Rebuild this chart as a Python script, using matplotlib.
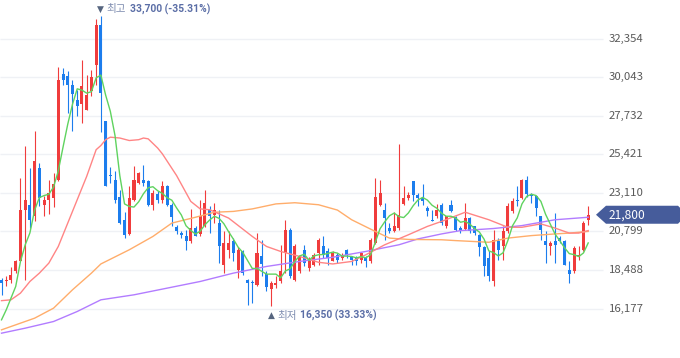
import matplotlib
matplotlib.use("Agg")
from matplotlib import pyplot as plt
from matplotlib.patches import Polygon
from matplotlib.transforms import IdentityTransform
import numpy as np
import pandas as pd

plt.rcParams['font.family'] = ['Noto Sans CJK KR', 'DejaVu Sans']

# daily candles (open, high, low, close), oldest first
opens = [17900, 17800, 17900, 18400, 19050, 22100, 22400, 21700, 24600, 22400,
         22700, 22800, 23900, 30250, 30100, 29600, 28700, 28450, 28100, 29200,
         30800, 33200, 27400, 24150, 23900, 22850, 21500, 20650, 22700, 23700,
         23900, 23850, 22400, 23050, 22700, 23550, 22400, 21050, 20700, 20500,
         20200, 21000, 20650, 21100, 22100, 21800, 21300, 18800, 19700, 20200,
         18500, 19600, 17900, 17750, 17600, 19300, 18250, 17350, 17600, 17800,
         19500, 20900, 17900, 18400, 19700, 18600, 18800, 19500, 19900, 19600,
         19050, 19400, 19200, 19700, 19250, 19200, 19100, 19200, 19050, 20100,
         22400, 22100, 21000, 20850, 21000, 22450, 22800, 23800, 23000, 22800,
         22200, 21500, 21700, 22400, 21100, 22400, 21650, 21000, 20950, 21600,
         21100, 20600, 19850, 19200, 17800, 20250, 19900, 20800, 22000, 22700,
         22800, 23900, 23050, 22950, 21700, 20200, 19900, 20200, 20400, 20200,
         18500, 18400, 19300, 19700, 21500]
highs = [18000, 18100, 18650, 19100, 24000, 25900, 24600, 26850, 24900, 22900,
         23900, 24300, 30650, 30600, 30400, 29900, 29300, 31050, 30200, 30450,
         33550, 33700, 27450, 24650, 24400, 23300, 21950, 23500, 24700, 24350,
         24800, 23900, 23300, 23200, 23800, 23600, 22500, 21200, 20800, 20900,
         22150, 21100, 22700, 23300, 22300, 22500, 22100, 20800, 20800, 20400,
         19850, 19700, 17950, 17900, 20700, 20300, 18400, 17800, 18100, 20000,
         21500, 21000, 20050, 19400, 20000, 19250, 19500, 20400, 20500, 19800,
         19600, 19500, 19500, 19750, 19350, 19300, 19550, 19300, 20400, 24000,
         23900, 22500, 21300, 21950, 26050, 23500, 23150, 23850, 23100, 23650,
         22300, 22100, 22450, 22500, 21750, 22700, 21700, 21100, 22500, 21650,
         21150, 20650, 19900, 19600, 20900, 20400, 21100, 22500, 22800, 23500,
         23950, 24100, 23100, 22950, 21750, 20800, 20200, 21900, 20500, 20300,
         19000, 19900, 19900, 21450, 22300]
lows = [17000, 17500, 17700, 18300, 19000, 17900, 21000, 21400, 22300, 21750,
        21850, 22250, 23850, 29600, 27900, 26800, 27700, 27300, 28050, 28900,
        29600, 26750, 23500, 23700, 22500, 21250, 20400, 20600, 22650, 23650,
        23500, 22300, 22100, 22500, 22500, 22300, 21100, 20650, 20400, 19700,
        20100, 20500, 20500, 21050, 20700, 21300, 18900, 18300, 19200, 19000,
        18000, 18200, 16400, 16500, 17550, 18150, 17250, 16350, 17400, 17700,
        18300, 18000, 17800, 18300, 18700, 18400, 18700, 18800, 19200, 18800,
        19000, 18900, 19100, 19200, 18800, 18800, 18900, 18650, 18900, 20050,
        22300, 20300, 20700, 20750, 20900, 22400, 22700, 22600, 22300, 22400,
        21700, 21400, 21600, 21200, 21000, 21950, 20800, 20700, 20900, 20700,
        20600, 19300, 18100, 17800, 17500, 19100, 19100, 20700, 21900, 22300,
        22750, 22850, 22500, 21700, 20300, 18900, 19400, 18900, 20100, 18800,
        17700, 18300, 19100, 19650, 21200]
closes = [17700, 17900, 18200, 19050, 22100, 22700, 21500, 25050, 22800, 22700,
          23100, 23650, 29900, 29900, 29600, 29050, 28300, 29500, 29000, 30050,
          33200, 29100, 23550, 24100, 22700, 21300, 20600, 22800, 23900, 24300,
          23700, 22400, 23100, 22700, 23500, 22400, 21650, 20800, 20600, 20250,
          21000, 20550, 21700, 22500, 21700, 22100, 19900, 20100, 20100, 19500,
          19700, 18300, 17700, 17700, 19500, 18850, 17450, 17700, 17700, 18400,
          20900, 18100, 19950, 19300, 18900, 19100, 19400, 20300, 19400, 19200,
          19500, 19100, 19400, 19400, 19100, 19050, 19500, 19050, 20300, 22850,
          23100, 21600, 20850, 21100, 21800, 22800, 23000, 23000, 22800, 22600,
          22000, 21450, 22100, 21300, 21700, 22000, 20900, 20850, 21600, 20800,
          20700, 19850, 18700, 18100, 20300, 19700, 20800, 22300, 22600, 22650,
          23900, 23050, 22950, 22200, 20900, 20000, 20100, 20000, 20200, 18800,
          18250, 19800, 19400, 21300, 21800]

# 5-day average: first four days, rest from closes
ma5_head = [15500, 16100, 16800, 17500]

# 20 / 60 / 120 day averages (candle index, price)
ma20_idx = [0, 2, 4, 6, 8, 10, 12, 14, 16, 18, 20, 21, 22, 23, 25, 27, 29, 30, 31,
            33, 34, 37, 40, 42, 44, 48, 53, 56, 59, 63, 67, 70, 74, 77, 81, 86, 90,
            93, 98, 103, 107, 110, 114, 117, 120, 122, 124]
ma20_val = [16650, 16700, 17100, 17800, 18300, 18900, 19900, 21300, 22700, 24100,
            25700, 25950, 26300, 26450, 26400, 26250, 26300, 26400, 26350, 25800,
            25450, 24150, 22600, 22150, 22100, 21600, 20500, 19900, 19600, 19300,
            18950, 18850, 19000, 19400, 20000, 20600, 21100, 21400, 21950, 21500,
            21050, 21050, 21250, 21000, 20700, 20700, 20850]
ma60_idx = [0, 3, 7, 11, 15, 19, 21, 27, 32, 36, 41, 45, 49, 53, 58, 62, 67, 71, 74,
            79, 82, 86, 93, 96, 103, 107, 112, 117, 120, 124]
ma60_val = [14900, 15200, 15600, 16200, 17300, 18300, 18850, 19700, 20500, 21300,
            21650, 21950, 22000, 22150, 22450, 22520, 22400, 22080, 21500, 20800,
            20400, 20320, 20300, 20250, 20150, 20400, 20550, 20650, 20700, 20800]
ma120_idx = [0, 5, 11, 16, 21, 28, 35, 42, 49, 56, 63, 70, 77, 84, 88, 93, 97, 100,
             104, 110, 117, 124]
ma120_val = [14700, 15000, 15400, 16000, 16700, 17000, 17400, 17800, 18300, 18700,
             19000, 19250, 19600, 20000, 20350, 20650, 20850, 20900, 20975, 21150,
             21500, 21650]

ticks = [16177, 18488, 20799, 23110, 25421, 27732, 30043, 32354]
tick_labels = ["16,177", "18,488", "20,799", "23,110", "25,421", "27,732", "30,043", "32,354"]

hi_idx, hi_val, hi_pct = 21, 33700, "(-35.31%)"
lo_idx, lo_val, lo_pct = 57, 16350, "(33.33%)"
last_price = 21800

UP = "#f03c3c"
DOWN = "#1c7ded"

fig = plt.figure(figsize=(6.8, 3.58), dpi=100)
ax = fig.add_axes([0, 0, 1, 1])
ax.set_xlim(-0.32, 143.4)
ax.set_ylim(13212, 34674)
ax.axis("off")

# grid
ax.hlines(ticks, -0.32, 127.2, color="#eff1f5", lw=1, zorder=0)
for t, lab in zip(ticks, tick_labels):
    ax.text(128.4, t, lab, va="center", ha="left", fontsize=8.2, color="#5a5a5a")

o = np.array(opens)
h = np.array(highs)
l = np.array(lows)
c = np.array(closes)
x = np.arange(len(c))
cols = np.where(c >= o, UP, DOWN)

ax.vlines(x, l, h, color=cols, lw=0.8, zorder=2)
body = np.maximum(np.abs(c - o), 60)
ax.bar(x, body, bottom=np.minimum(o, c), width=0.64, color=cols, lw=0, zorder=3)

# moving averages
ma5 = pd.Series(closes).rolling(5).mean().to_numpy()
ma5[:4] = ma5_head
ax.plot(ma120_idx, ma120_val, color="#b27cff", lw=1.0, zorder=4)
ax.plot(ma60_idx, ma60_val, color="#ffad6b", lw=1.0, zorder=4)
ax.plot(ma20_idx, ma20_val, color="#ff8585", lw=1.0, zorder=4)
ax.plot(x, ma5, color="#5fd35f", lw=1.0, zorder=5)

# high / low notes
def note(idx, val, dy, word, value):
    ax.annotate("▼" if dy > 0 else "▲", xy=(idx, val), xytext=(0, dy),
                textcoords="offset pixels", ha="center", va="center",
                fontsize=6.5, color="#56657f", family=["DejaVu Sans"])
    ax.annotate(word, xy=(idx, val), xytext=(6, dy), textcoords="offset pixels",
                ha="left", va="center", fontsize=7.6, color="#7f8db0")
    ax.annotate(value, xy=(idx, val), xytext=(29, dy), textcoords="offset pixels",
                ha="left", va="center", fontsize=7.4, fontweight="bold",
                color="#5b6ea6", family=["Roboto", "DejaVu Sans"])

note(hi_idx, hi_val, 7, "최고", "33,700 " + hi_pct)
note(lo_idx, lo_val, -10, "최저", "16,350 " + lo_pct)

# last price tag
yc = ax.transData.transform((0, last_price))[1]
tag = Polygon([(596, yc), (606, yc + 9), (678, yc + 9), (680, yc + 7),
               (680, yc - 7), (678, yc - 9), (606, yc - 9)],
              closed=True, transform=IdentityTransform(), facecolor="#465c9b",
              edgecolor="none", zorder=6)
ax.add_patch(tag)
ax.text(128.4, last_price, "21,800", va="center", ha="left", fontsize=8.6,
        color="white", zorder=7)

fig.savefig("out.png", dpi=100)
